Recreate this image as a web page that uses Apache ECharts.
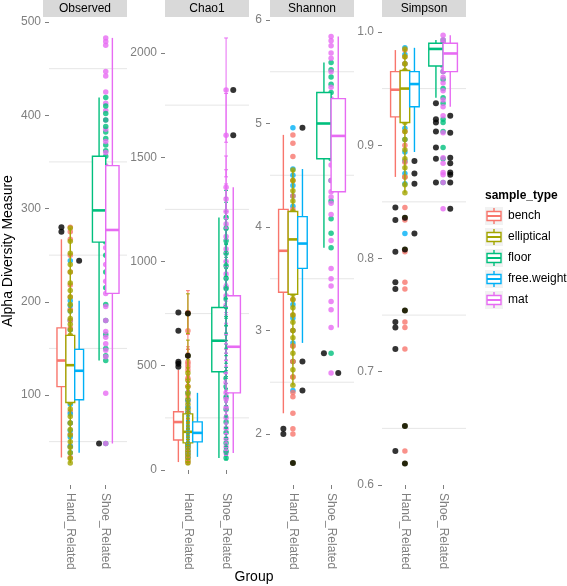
<!DOCTYPE html>
<html><head><meta charset="utf-8">
<script src="https://cdn.jsdelivr.net/npm/echarts@6/dist/echarts.min.js"></script>
<style>html,body{margin:0;padding:0;background:#fff}#c{width:567px;height:586px}</style>
</head><body><div id="c"></div><script>
// ---------- data ----------
const measures = ['Observed', 'Chao1', 'Shannon', 'Simpson'];
const groups = ['Hand_Related', 'Shoe_Related'];
const sampleTypes = ['bench', 'elliptical', 'floor', 'free.weight', 'mat'];
const typeGroup = [0, 0, 1, 0, 1];

const observedTicks = [100, 200, 300, 400, 500];
const chao1Ticks = [0, 500, 1000, 1500, 2000];
const shannonTicks = [2, 3, 4, 5, 6];
const simpsonTicks = [0.6, 0.7, 0.8, 0.9, 1.0];
const observedMinor = [50, 150, 250, 350, 450];
const chao1Minor = [250, 750, 1250, 1750];
const shannonMinor = [2.5, 3.5, 4.5, 5.5];
const simpsonMinor = [0.65, 0.75, 0.85, 0.95];

const observedBench = [33, 45, 58, 70, 82, 95, 103, 109, 115, 122, 130, 137, 141, 148, 155, 163, 172, 180, 192, 205, 218, 232, 250, 267, 275, 280];
const observedElliptical = [27, 32, 38, 44, 50, 57, 63, 70, 77, 85, 92, 100, 110, 120, 132, 140, 150, 158, 164, 170, 176, 182, 190, 197, 205, 212, 220, 232, 240, 252, 265, 279];
const observedFloor = [48, 137, 142, 150, 165, 180, 197, 215, 232, 250, 264, 272, 285, 298, 310, 322, 340, 356, 362, 368, 375, 382, 388, 395, 402, 410, 419];
const observedFreeWeight = [38, 45, 55, 62, 70, 80, 90, 95, 105, 115, 126, 132, 140, 149, 160, 170, 180, 190, 196, 201, 244];
const observedMat = [48, 102, 141, 148, 155, 162, 168, 180, 195, 209, 222, 240, 258, 277, 290, 305, 320, 335, 346, 360, 372, 385, 395, 405, 413, 425, 442, 447, 475, 479, 483];

const chao1Bench = [38, 55, 72, 90, 110, 128, 144, 160, 180, 200, 215, 230, 245, 260, 279, 300, 330, 360, 400, 440, 480, 495, 510, 519, 668, 755];
const chao1BenchSe = [8, 10, 12, 14, 16, 18, 20, 22, 24, 26, 28, 30, 32, 34, 36, 40, 44, 48, 52, 58, 62, 66, 70, 72, 90, 105];
const chao1Elliptical = [34, 45, 60, 75, 90, 105, 118, 130, 142, 155, 170, 183, 200, 215, 230, 245, 258, 269, 290, 315, 340, 370, 400, 430, 465, 548, 750];
const chao1EllipticalSe = [6, 8, 10, 12, 14, 15, 17, 18, 20, 22, 24, 25, 28, 30, 32, 34, 36, 38, 40, 44, 48, 52, 56, 60, 64, 75, 95];
const chao1Floor = [58, 90, 130, 180, 230, 290, 350, 400, 440, 471, 500, 540, 580, 620, 660, 700, 740, 779, 820, 870, 920, 980, 1040, 1100, 1160, 1211];
const chao1FloorSe = [10, 14, 18, 24, 30, 36, 42, 48, 52, 56, 60, 64, 68, 72, 76, 80, 84, 88, 92, 96, 100, 106, 112, 118, 124, 130];
const chao1FreeWeight = [63, 80, 95, 110, 122, 135, 148, 160, 170, 178, 190, 205, 218, 231, 250, 275, 300, 335, 370];
const chao1FreeWeightSe = [10, 12, 14, 16, 17, 19, 20, 22, 23, 24, 26, 28, 30, 32, 34, 38, 42, 46, 50];
const chao1Mat = [82, 110, 150, 200, 250, 300, 340, 370, 420, 470, 520, 560, 591, 630, 680, 730, 790, 836, 880, 940, 1000, 1060, 1120, 1180, 1240, 1300, 1356, 1606, 1822];
const chao1MatSe = [12, 15, 20, 25, 30, 35, 40, 44, 48, 54, 58, 62, 66, 70, 75, 80, 86, 92, 96, 102, 108, 114, 120, 126, 132, 140, 150, 200, 250];

const shannonBench = [2.0, 2.05, 2.2, 2.36, 2.4, 2.55, 2.7, 2.85, 3.0, 3.15, 3.3, 3.37, 3.5, 3.6, 3.7, 3.77, 3.85, 3.95, 4.05, 4.17, 4.3, 4.45, 4.68, 4.81, 4.89];
const shannonElliptical = [1.72, 2.47, 2.55, 2.62, 2.7, 2.78, 2.85, 2.93, 3.0, 3.08, 3.15, 3.22, 3.3, 3.35, 3.5, 3.65, 3.8, 3.88, 3.95, 4.05, 4.15, 4.25, 4.35, 4.45, 4.55];
const shannonFloor = [2.78, 3.8, 3.94, 4.08, 4.25, 4.45, 4.66, 4.75, 4.85, 4.95, 5.0, 5.08, 5.15, 5.22, 5.3, 5.38, 5.45, 5.52, 5.59];
const shannonFreeWeight = [2.42, 2.7, 2.88, 3.0, 3.12, 3.25, 3.4, 3.5, 3.6, 3.7, 3.78, 3.84, 3.9, 4.0, 4.1, 4.2, 4.3, 4.4, 4.5, 4.56, 4.96];
const shannonMat = [2.59, 3.03, 3.2, 3.28, 3.43, 3.5, 3.6, 3.87, 4.12, 4.23, 4.29, 4.34, 4.45, 4.6, 4.75, 4.88, 5.0, 5.1, 5.24, 5.35, 5.5, 5.63, 5.68, 5.75, 5.8, 5.84];

const simpsonBench = [0.63, 0.72, 0.739, 0.744, 0.773, 0.779, 0.806, 0.834, 0.845, 0.872, 0.885, 0.9, 0.912, 0.925, 0.935, 0.942, 0.949, 0.955, 0.96, 0.965, 0.972, 0.978, 0.984];
const simpsonElliptical = [0.619, 0.652, 0.754, 0.808, 0.836, 0.858, 0.865, 0.872, 0.88, 0.888, 0.896, 0.905, 0.912, 0.92, 0.93, 0.94, 0.95, 0.955, 0.96, 0.966, 0.972, 0.978, 0.985];
const simpsonFloor = [0.867, 0.888, 0.898, 0.912, 0.92, 0.923, 0.937, 0.942, 0.95, 0.958, 0.965, 0.97, 0.975, 0.98, 0.983, 0.985, 0.987, 0.99, 0.993];
const simpsonFreeWeight = [0.822, 0.866, 0.875, 0.886, 0.894, 0.905, 0.915, 0.925, 0.934, 0.94, 0.947, 0.954, 0.958, 0.962, 0.965, 0.972, 0.98, 0.986];
const simpsonMat = [0.844, 0.867, 0.874, 0.876, 0.884, 0.889, 0.911, 0.926, 0.934, 0.94, 0.948, 0.955, 0.96, 0.965, 0.97, 0.975, 0.981, 0.985, 0.988, 0.99, 0.993, 0.997];

// box stats [lower whisker, Q1, median, Q3, upper whisker], order of sampleTypes
const observedBoxes = [[33, 109, 137, 172, 267], [27, 92, 132, 164, 279], [137, 264, 298, 356, 419], [38, 95, 126, 149, 201], [48, 209, 277, 346, 483]];
const chao1Boxes = [[38, 144, 230, 279, 480], [34, 130, 183, 269, 465], [58, 471, 620, 779, 1211], [63, 135, 178, 231, 370], [82, 370, 591, 836, 1356]];
const shannonBoxes = [[2.2, 3.37, 3.77, 4.17, 4.89], [2.47, 3.35, 3.88, 4.15, 4.55], [3.8, 4.66, 5.0, 5.3, 5.59], [2.88, 3.6, 3.84, 4.1, 4.56], [3.03, 4.34, 4.88, 5.24, 5.84]];
const simpsonBoxes = [[0.872, 0.925, 0.949, 0.965, 0.984], [0.858, 0.92, 0.95, 0.966, 0.985], [0.942, 0.97, 0.985, 0.99, 0.993], [0.894, 0.934, 0.954, 0.965, 0.986], [0.934, 0.965, 0.981, 0.99, 0.997]];

// ---------- layout / style ----------
const typeColors = ['#F8766D', '#A3A500', '#00BF7D', '#00B0F6', '#E76BF3'];
const FONT = 'Liberation Sans, Arial, Helvetica, sans-serif';
const panelLeft = [43, 165, 270, 382];
const panelWidth = 84, panelTop = 17, panelHeight = 468;
const yMin = [3.5, -72, 1.507, 0.6];
const yMax = [505.4, 2172.7, 6.029, 1.0132];

const measureValues = [
  [observedBench, observedElliptical, observedFloor, observedFreeWeight, observedMat],
  [chao1Bench, chao1Elliptical, chao1Floor, chao1FreeWeight, chao1Mat],
  [shannonBench, shannonElliptical, shannonFloor, shannonFreeWeight, shannonMat],
  [simpsonBench, simpsonElliptical, simpsonFloor, simpsonFreeWeight, simpsonMat]
];
const chao1Se = [chao1BenchSe, chao1EllipticalSe, chao1FloorSe, chao1FreeWeightSe, chao1MatSe];
const measureBoxes = [observedBoxes, chao1Boxes, shannonBoxes, simpsonBoxes];
const measureTicks = [observedTicks, chao1Ticks, shannonTicks, simpsonTicks];
const measureMinor = [observedMinor, chao1Minor, shannonMinor, simpsonMinor];

function membersOf(g) { return sampleTypes.map((_, i) => i).filter(i => typeGroup[i] === g); }
function dodge(t) {
  const g = typeGroup[t];
  const m = membersOf(g);
  const w = 0.75 / m.length;
  const k = m.indexOf(t);
  return { x: g + 1 - 0.375 + w * (k + 0.5), hw: w / 2 };
}

const grids = [], xAxes = [], yAxes = [], series = [], graphics = [];
const tickColor = '#7f7f7f';

measures.forEach((name, p) => {
  grids.push({ left: panelLeft[p], top: panelTop, width: panelWidth, height: panelHeight });
  xAxes.push({
    gridIndex: p, type: 'value', min: 0.4, max: 2.6,
    axisLine: { show: false }, splitLine: { show: false },
    axisTick: { show: true, customValues: [1, 2], length: 4, lineStyle: { color: tickColor, width: 1 } },
    axisLabel: { customValues: [1, 2], rotate: -90, margin: 8, color: tickColor, fontSize: 12, fontFamily: FONT,
      formatter: v => groups[Math.round(v) - 1] }
  });
  const ya = {
    gridIndex: p, type: 'value', min: yMin[p], max: yMax[p],
    axisLine: { show: false }, splitLine: { show: false },
    axisTick: { show: true, customValues: measureTicks[p], length: 4, lineStyle: { color: tickColor, width: 1 } },
    axisLabel: { customValues: measureTicks[p], margin: 8, color: tickColor, fontSize: 12, fontFamily: FONT,
      formatter: v => p === 3 ? v.toFixed(1) : String(v) }
  };
  if (p === 0) {
    Object.assign(ya, { name: 'Alpha Diversity Measure', nameLocation: 'middle', nameGap: 34, nameRotate: 90,
      nameTextStyle: { fontSize: 14, color: '#000', fontFamily: FONT } });
  }
  yAxes.push(ya);

  // minor grid lines
  series.push({
    type: 'custom', xAxisIndex: p, yAxisIndex: p, z: 1, silent: true,
    data: measureMinor[p].map(v => [1, v]),
    renderItem: (params, api) => {
      const cs = params.coordSys;
      const y = api.coord([1, api.value(1)])[1];
      return { type: 'line', shape: { x1: cs.x, y1: y, x2: cs.x + cs.width, y2: y }, style: { stroke: '#e6e6e6', lineWidth: 1 } };
    }
  });

  const vals = measureValues[p];
  // colored points at group centre, interleaved among types
  [0, 1].forEach(g => {
    const m = membersOf(g);
    const maxLen = Math.max(...m.map(t => vals[t].length));
    const data = [];
    for (let i = 0; i < maxLen; i++) {
      m.forEach(t => { if (i < vals[t].length) data.push({ value: [g + 1, vals[t][i]], itemStyle: { color: typeColors[t] } }); });
    }
    series.push({ type: 'scatter', xAxisIndex: p, yAxisIndex: p, z: 2, symbolSize: 5.5, silent: true, data });
  });

  // boxes
  const boxData = measureBoxes[p].map((b, t) => {
    const d = dodge(t);
    return [d.x, b[0], b[1], b[2], b[3], b[4], d.hw, t];
  });
  series.push({
    type: 'custom', xAxisIndex: p, yAxisIndex: p, z: 3, silent: true,
    encode: { x: 0, y: [1, 2, 3, 4, 5] },
    data: boxData,
    renderItem: (params, api) => {
      const x = api.value(0), hw = api.value(6);
      const col = typeColors[api.value(7)];
      const lo = api.coord([x, api.value(1)]), q1 = api.coord([x, api.value(2)]);
      const med = api.coord([x, api.value(3)]), q3 = api.coord([x, api.value(4)]);
      const hi = api.coord([x, api.value(5)]);
      const xl = api.coord([x - hw, api.value(3)])[0], xr = api.coord([x + hw, api.value(3)])[0];
      const lw = 1.4;
      return { type: 'group', children: [
        { type: 'line', shape: { x1: lo[0], y1: lo[1], x2: q1[0], y2: q1[1] }, style: { stroke: col, lineWidth: lw } },
        { type: 'line', shape: { x1: q3[0], y1: q3[1], x2: hi[0], y2: hi[1] }, style: { stroke: col, lineWidth: lw } },
        { type: 'rect', shape: { x: xl, y: q3[1], width: xr - xl, height: q1[1] - q3[1] }, style: { fill: '#fff', stroke: col, lineWidth: lw } },
        { type: 'line', shape: { x1: xl, y1: med[1], x2: xr, y2: med[1] }, style: { stroke: col, lineWidth: 2.6 } }
      ] };
    }
  });

  // Chao1 error bars
  if (p === 1) {
    const ebData = [];
    [0, 1].forEach(g => {
      const m = membersOf(g);
      const maxLen = Math.max(...m.map(t => vals[t].length));
      for (let i = 0; i < maxLen; i++) {
        m.forEach(t => { if (i < vals[t].length) ebData.push([g + 1, vals[t][i], chao1Se[t][i], t]); });
      }
    });
    series.push({
      type: 'custom', xAxisIndex: p, yAxisIndex: p, z: 4, silent: true,
      data: ebData,
      renderItem: (params, api) => {
        const x = api.value(0), v = api.value(1), se = api.value(2);
        const col = typeColors[api.value(3)];
        const top = api.coord([x, v + se]), bot = api.coord([x, v - se]);
        const xl = api.coord([x - 0.05, v])[0], xr = api.coord([x + 0.05, v])[0];
        return { type: 'group', children: [
          { type: 'line', shape: { x1: top[0], y1: top[1], x2: bot[0], y2: bot[1] }, style: { stroke: col, lineWidth: 1 } },
          { type: 'line', shape: { x1: xl, y1: top[1], x2: xr, y2: top[1] }, style: { stroke: col, lineWidth: 1 } },
          { type: 'line', shape: { x1: xl, y1: bot[1], x2: xr, y2: bot[1] }, style: { stroke: col, lineWidth: 1 } }
        ] };
      }
    });
  }

  // outliers (black) at dodged positions
  const outData = [];
  measureBoxes[p].forEach((b, t) => {
    const d = dodge(t);
    vals[t].forEach(v => { if (v < b[0] || v > b[4]) outData.push([d.x, v]); });
  });
  series.push({ type: 'scatter', xAxisIndex: p, yAxisIndex: p, z: 5, symbolSize: 6, silent: true,
    itemStyle: { color: '#000' }, data: outData });

  // strip
  graphics.push({ type: 'rect', left: panelLeft[p], top: 0, shape: { width: panelWidth, height: panelTop }, style: { fill: '#d9d9d9' } });
  graphics.push({ type: 'text', x: panelLeft[p] + panelWidth / 2, y: panelTop / 2 + 0.5,
    style: { text: name, fill: '#000', fontSize: 12, fontFamily: FONT, align: 'center', verticalAlign: 'middle' } });
});

// x-axis title
graphics.push({ type: 'text', x: 254, y: 577, style: { text: 'Group', fill: '#000', fontSize: 14, fontFamily: FONT, align: 'center', verticalAlign: 'middle' } });

// legend
graphics.push({ type: 'text', x: 485, y: 196, style: { text: 'sample_type', fill: '#000', fontSize: 12, fontWeight: 'bold', fontFamily: FONT, align: 'left', verticalAlign: 'middle' } });
sampleTypes.forEach((t, i) => {
  const cy = 216 + i * 21;
  const col = typeColors[i];
  graphics.push({ type: 'rect', shape: { x: 485, y: cy - 9, width: 18, height: 18 }, style: { fill: '#f2f2f2' } });
  graphics.push({ type: 'line', shape: { x1: 494, y1: cy - 8, x2: 494, y2: cy + 8 }, style: { stroke: col, lineWidth: 1.4 } });
  graphics.push({ type: 'rect', shape: { x: 487, y: cy - 4.5, width: 14, height: 9 }, style: { fill: '#fff', stroke: col, lineWidth: 1.4 } });
  graphics.push({ type: 'line', shape: { x1: 487, y1: cy, x2: 501, y2: cy }, style: { stroke: col, lineWidth: 2 } });
  graphics.push({ type: 'text', x: 508, y: cy, style: { text: t, fill: '#000', fontSize: 12, fontFamily: FONT, align: 'left', verticalAlign: 'middle' } });
});

const chart = echarts.init(document.getElementById('c'), null, { renderer: 'canvas' });
chart.setOption({
  animation: false,
  backgroundColor: '#fff',
  grid: grids, xAxis: xAxes, yAxis: yAxes, series,
  graphic: { elements: graphics }
});
</script></body></html>
